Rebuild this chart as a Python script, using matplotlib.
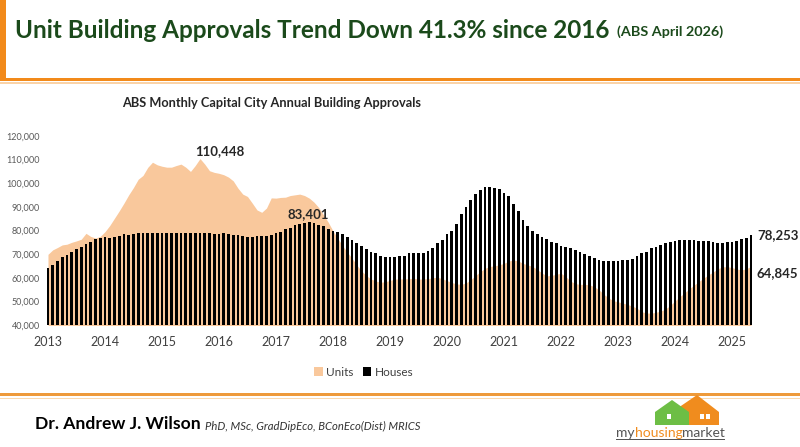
import matplotlib
matplotlib.use('Agg')
import matplotlib.pyplot as plt
from matplotlib.patches import Rectangle, Polygon, Patch
import numpy as np

plt.rcParams['font.family'] = ['Lato', 'DejaVu Sans']

# ---------------- data (monthly, Jan 2013 - May 2025) ----------------
year_labels = [str(y) for y in range(2013, 2026)]

units = [
    69900, 71800, 72800, 73900, 74200, 75000, 75600, 76300, 78800, 77500, 76800, 77500,
    79500, 82100, 85200, 88300, 91600, 95100, 98200, 101700, 103300, 106700, 108900, 107800,
    107200, 106800, 106800, 107500, 108100, 106800, 105000, 107500, 110448, 108100, 105300, 104600,
    104200, 103600, 102600, 101000, 97900, 95400, 94400, 91600, 88700, 87700, 89500, 93800,
    93700, 94000, 94100, 94800, 95100, 95400, 94800, 93700, 92000, 89700, 86600, 83500,
    79800, 76700, 73600, 70800, 68300, 65400, 62900, 60900, 59500, 58600, 58100, 58300,
    58900, 59400, 59500, 59500, 59600, 59800, 59400, 59500, 59600, 60000, 60200, 59600,
    58800, 58000, 57400, 57200, 57800, 59200, 60900, 62600, 64000, 64800, 65000, 65500,
    66100, 67100, 67500, 67100, 66100, 65400, 64800, 63500, 62000, 60800, 61000, 61500,
    61900, 60500, 58600, 57500, 57200, 57200, 57000, 56200, 54900, 53000, 51500, 50300,
    49800, 49300, 48700, 48000, 47100, 45600, 45100, 45000, 45400, 45900, 46800, 48300,
    50200, 52000, 53600, 55300, 56900, 58400, 59800, 61200, 62400, 63800, 64600, 64700,
    64300, 63700, 63300, 63800, 64845,
]

houses = [
    64000, 65400, 67100, 68700, 69700, 70800, 72100, 73200, 74200, 75300, 76300, 76700,
    77300, 77000, 77200, 77700, 78400, 78300, 78600, 78800, 78900, 79000, 79000, 78900,
    78900, 78800, 78800, 78900, 78900, 79100, 79100, 78900, 78800, 78800, 78900, 78700,
    78600, 78800, 78500, 78200, 78000, 77500, 77400, 77400, 77600, 77700, 77800, 78100,
    78900, 79500, 80500, 81200, 82400, 82800, 83000, 83401, 83200, 82500, 82100, 80700,
    79800, 79300, 78400, 77400, 76000, 74900, 73500, 72200, 71100, 70400, 69200, 68800,
    68800, 68800, 69000, 69200, 70400, 70400, 70400, 70600, 71400, 72800, 74500, 76100,
    78400, 79800, 82800, 86900, 89900, 92700, 95400, 97100, 98300, 98500, 98100, 97500,
    95800, 94400, 91400, 88300, 84600, 81900, 79800, 78400, 77400, 76400, 75300, 74500,
    73600, 73200, 72500, 71800, 70800, 70200, 69100, 68300, 67500, 67100, 67100, 67100,
    67100, 67400, 67700, 67800, 69200, 70500, 71100, 72500, 73100, 73800, 74900, 75300,
    75600, 76000, 76000, 76000, 75900, 75600, 75600, 75600, 75000, 74900, 74900, 75000,
    75300, 75600, 76300, 77000, 78253,
]

y_ticks = [40000, 50000, 60000, 70000, 80000, 90000, 100000, 110000, 120000]

# ---------------- figure ----------------
W, H = 800, 447
fig = plt.figure(figsize=(8, 4.47), dpi=100)
fig.patch.set_facecolor('white')


def fx(px):
    return px / W


def fy(py):
    return 1 - py / H


renderer = fig.canvas.get_renderer()


def fit_text(x, y, s, target_w, **kw):
    t = fig.text(fx(x), fy(y), s, **kw)
    w = t.get_window_extent(renderer).width
    t.set_fontsize(t.get_fontsize() * target_w / w)
    return t


# decorative frame lines
fig.add_artist(Rectangle((0, fy(80)), fx(6), 1 - fy(80), transform=fig.transFigure,
                         color='#F28A1A', lw=0))
fig.add_artist(Rectangle((0, fy(81)), 1, fx(0) + 3.5 / H, transform=fig.transFigure,
                         color='#F28A1A', lw=0))
fig.add_artist(Rectangle((0, fy(84)), 1, 1.5 / H, transform=fig.transFigure,
                         color='#FAD3A8', lw=0))
fig.add_artist(Rectangle((0, fy(396)), 1, 3.5 / H, transform=fig.transFigure,
                         color='#EE9A3A', lw=0))
fig.add_artist(Rectangle((0, fy(399)), 1, 1.5 / H, transform=fig.transFigure,
                         color='#FAD9B0', lw=0))

# titles
fit_text(15, 30, 'Unit Building Approvals Trend Down 41.3% since 2016', 595,
         fontsize=20, fontweight='bold', color='#1B4A1B', va='center', ha='left')
fit_text(617, 32, '(ABS April 2026)', 107,
         fontsize=11, fontweight='bold', color='#1B4A1B', va='center', ha='left')
fit_text(122, 103, 'ABS Monthly Capital City Annual Building Approvals', 300,
         fontsize=9, fontweight='bold', color='#262626', va='center', ha='left')

# ---------------- chart ----------------
ax = fig.add_axes([fx(45.6), fy(325), fx(753.4) - fx(45.6), fy(136) - fy(325)])
x = np.arange(len(houses))
ax.fill_between(x, 0, units, color='#F9C89C', lw=0, zorder=1)
ax.bar(x, houses, width=0.55, color='black', zorder=2)
ax.set_xlim(-0.5, len(houses) - 0.5)
ax.set_ylim(40000, 120000)
ax.set_yticks(y_ticks)
ax.set_yticklabels([f'{v:,}' for v in y_ticks])
ax.set_xticks(np.arange(0, len(houses), 12))
ax.set_xticklabels(year_labels)
for s in ax.spines.values():
    s.set_visible(False)
ax.tick_params(axis='both', length=0)
ax.tick_params(axis='y', labelsize=6.5, labelcolor='#595959', pad=4)
ax.tick_params(axis='x', labelsize=9, labelcolor='#404040', pad=8)
ax.patch.set_alpha(0)
ax.set_clip_on(False)

# data labels
ax.text(36.2, 113700, f'{110448:,}', ha='center', va='center', fontsize=9.5,
        fontweight='bold', color='#262626')
ax.text(54.8, 86900, f'{83401:,}', ha='center', va='center', fontsize=9.5,
        fontweight='bold', color='#262626')
ax.text(149.3, 78100, f'{78253:,}', ha='left', va='center', fontsize=9.5,
        fontweight='bold', color='#262626', clip_on=False)
ax.text(149.1, 61900, f'{64845:,}', ha='left', va='center', fontsize=9.5,
        fontweight='bold', color='#262626', clip_on=False)

# legend
handles = [Patch(facecolor='#F9C89C', edgecolor='none', label='Units'),
           Patch(facecolor='black', edgecolor='none', label='Houses')]
fig.legend(handles=handles, loc='center', bbox_to_anchor=(fx(364), fy(372)), ncol=2,
           frameon=False, fontsize=8.5, handlelength=0.7, handleheight=0.7,
           handletextpad=0.3, columnspacing=0.8, labelcolor='#404040')

# footer
fit_text(35, 424, 'Dr. Andrew J. Wilson', 165, fontsize=13, fontweight='bold',
         color='black', va='center', ha='left')
fit_text(205, 426, 'PhD, MSc, GradDipEco, BConEco(Dist) MRICS', 215, fontsize=7,
         style='italic', color='#333333', va='center', ha='left')

# logo
green_house = [(655, 425), (655, 412), (672, 400), (689, 412), (689, 425)]
orange_house = [(675, 425), (675, 410), (697, 395), (719, 412), (719, 425)]
fig.add_artist(Polygon([(fx(a), fy(b)) for a, b in orange_house], closed=True,
                       transform=fig.transFigure, color='#F08C1E', lw=0))
fig.add_artist(Polygon([(fx(a), fy(b)) for a, b in green_house], closed=True,
                       transform=fig.transFigure, color='#6DBE45', lw=0))
for wx, wy in [(667, 414), (700, 414), (706, 414)]:
    fig.add_artist(Rectangle((fx(wx), fy(wy + 5)), 4 / W, 5 / H, transform=fig.transFigure,
                             color='white', lw=0))
t1 = fig.text(fx(616), fy(433), 'my', fontsize=10, color='#555555', va='center', ha='left')
fig.canvas.draw()
bb = t1.get_window_extent(renderer)
t2 = fig.text(bb.x1 / W, fy(433), 'housing', fontsize=10, color='#F08C1E', va='center', ha='left')
bb2 = t2.get_window_extent(renderer)
t3 = fig.text(bb2.x1 / W, fy(433), 'market', fontsize=10, color='#555555', va='center', ha='left')
bb3 = t3.get_window_extent(renderer)
fig.add_artist(Rectangle((fx(616), fy(440)), (bb3.x1 - 616) / W, 1 / H,
                         transform=fig.transFigure, color='#555555', lw=0))

fig.savefig('out.png', dpi=100, facecolor='white')
